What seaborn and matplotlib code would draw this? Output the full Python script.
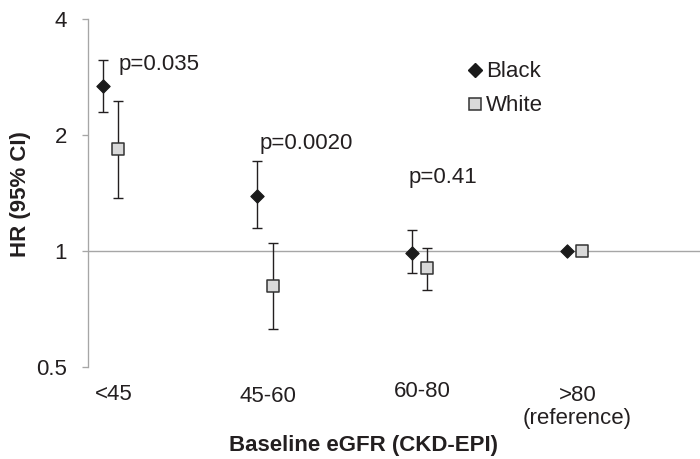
import numpy as np
import pandas as pd
import seaborn as sns
import matplotlib.pyplot as plt
from matplotlib.lines import Line2D
from matplotlib.ticker import NullLocator
from matplotlib.transforms import ScaledTranslation

# values (HR with 95% CI)
categories = ["<45", "45-60", "60-80", ">80\n(reference)"]
black_hr = [2.68, 1.39, 0.99, 1.0]
black_lo = [2.30, 1.15, 0.874, 1.0]
black_hi = [3.13, 1.71, 1.13, 1.0]
white_hr = [1.84, 0.81, 0.90, 1.0]
white_lo = [1.37, 0.625, 0.79, 1.0]
white_hi = [2.45, 1.05, 1.02, 1.0]
p_labels = ["p=0.035", "p=0.0020", "p=0.41"]
y_ticks = [0.5, 1, 2, 4]
y_ticklabels = ["0.5", "1", "2", "4"]

sns.set_theme(style="white")
plt.rcParams['font.family'] = ['Liberation Sans', 'DejaVu Sans']
txt = '#231f20'
grey = '#a6a6a6'

rows = []
for grp, hr, lo, hi in [("Black", black_hr, black_lo, black_hi), ("White", white_hr, white_lo, white_hi)]:
    for i, cat in enumerate(categories):
        rows.append([cat, i, grp, hr[i], lo[i], hi[i]])
df = pd.DataFrame(rows, columns=['cat', 'idx', 'group', 'hr', 'lo', 'hi'])
df['xpos'] = df['idx'] + df['group'].map({'Black': -0.05, 'White': 0.05})

fig = plt.figure(figsize=(7, 4.59), dpi=100)
ax = fig.add_axes([0.125, 0.2011, 0.875, 0.7569])
ax.set_yscale('log', base=2)

ax.axhline(1, color=grey, lw=1.0, zorder=1)

ci = df[df['hi'] > df['lo']]
ax.errorbar(ci['xpos'], ci['hr'], yerr=[ci['hr'] - ci['lo'], ci['hi'] - ci['hr']],
            fmt='none', ecolor=txt, elinewidth=1.0, capsize=3.4, capthick=1.0, zorder=2)

sns.scatterplot(data=df[df.group == 'Black'], x='xpos', y='hr', marker='D', s=46,
                color='#1a1a1a', edgecolor='#1a1a1a', linewidth=0.8, legend=False, zorder=3, ax=ax)
sns.scatterplot(data=df[df.group == 'White'], x='xpos', y='hr', marker='s', s=82,
                color='#d9d9d9', edgecolor='#333333', linewidth=1.1, legend=False, zorder=3, ax=ax)

# p-values
ax.text(0.055, 2.96, p_labels[0], fontsize=16, color=txt)
ax.text(0.962, 1.836, p_labels[1], fontsize=16, color=txt)
ax.text(1.926, 1.498, p_labels[2], fontsize=16, color=txt)

ax.set_ylim(0.5, 4)
ax.set_xlim(-0.149, 3.813)
ax.set_yticks(y_ticks, y_ticklabels)
ax.yaxis.set_minor_locator(NullLocator())
ax.set_xticks(range(len(categories)), categories)
ax.tick_params(axis='y', left=True, length=4.2, width=0.95, color=grey, pad=10.5,
               labelsize=16, labelcolor=txt)
ax.tick_params(axis='x', length=0, pad=12.5, labelsize=16, labelcolor=txt)
offsets = [(0, 0), (0, -1.5), (0, 2.2), (0, -0.5)]
for lab, (dx, dy) in zip(ax.get_xticklabels(), offsets):
    lab.set_transform(lab.get_transform() + ScaledTranslation((dx + 2.2) / 72, dy / 72, fig.dpi_scale_trans))
    lab.set_linespacing(1.12)

sns.despine(ax=ax, top=True, right=True, bottom=True)
ax.spines['left'].set_color(grey)
ax.spines['left'].set_linewidth(0.95)

ax.set_xlabel("Baseline eGFR (CKD-EPI)", fontsize=16, fontweight='bold', color=txt, va='center')
ax.xaxis.set_label_coords(0.4498, -0.2265)
ax.set_ylabel("HR (95% CI)", fontsize=16, fontweight='bold', color=txt, va='center')
ax.yaxis.set_label_coords(-0.110, 0.4957)

handles = [Line2D([], [], marker='D', ls='none', markersize=6.8, color='#1a1a1a', mec='#1a1a1a'),
           Line2D([], [], marker='s', ls='none', markersize=9.1, color='#d9d9d9', mec='#333333', mew=1.1)]
ax.legend(handles, ["Black", "White"], loc='center left', bbox_to_anchor=(468.3 / 700, 1 - 88.9 / 459),
          bbox_transform=fig.transFigure, frameon=False, fontsize=16, handlelength=0.6,
          handletextpad=0.2, labelspacing=0.58, borderpad=0, borderaxespad=0, labelcolor=txt)

plt.savefig("out.png", dpi=100)
